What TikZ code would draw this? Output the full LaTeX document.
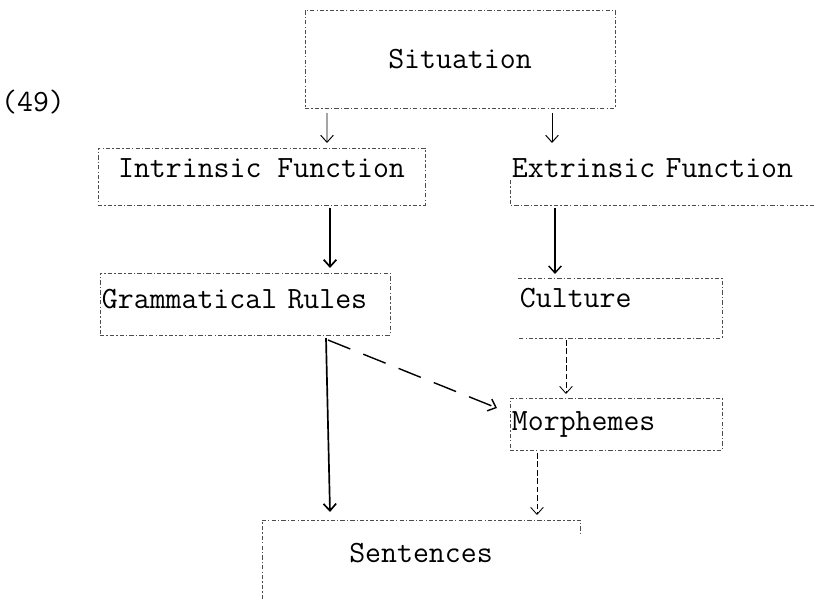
\documentclass[tikz,border=0pt]{standalone}
\usepackage{fontspec}
\usetikzlibrary{positioning}
\usetikzlibrary{calc}
\usetikzlibrary{arrows.meta}
\tikzset{
        tw/.style={font=\ttfamily\fontsize{22}{25}\selectfont, inner sep=0pt, outer sep=0pt},
        lbox/.style={tw, align=left, inner xsep=0.05cm},
        frame/.style={draw=black!70, line width=0.5pt, dash pattern=on 3pt off 1.5pt on 1pt off 1.5pt},
        thinarrow/.style={->, line width=0.7pt},
        thickarrow/.style={->, line width=1.2pt},
        dasharrow/.style={->, line width=0.6pt, dash pattern=on 4pt off 2pt},
        longdash/.style={->, line width=1pt, dash pattern=on 0.6cm off 0.35cm},
}
\begin{document}
\begin{tikzpicture}[x=0.025cm, y=-0.025cm, >={Straight Barb[length=5pt, width=9pt]}]
      \useasboundingbox (0,0) rectangle (816,599);
      % NUMBER
      \node[tw] (num) at (33,102) {(49)};

      % BOXES (text depth lifts the text inside the box)
      \node[tw, frame, minimum width=7.75cm, minimum height=2.45cm] (sit) at (460,59) {Situation};
      \node[tw, frame, minimum width=8.175cm, minimum height=1.425cm, text depth=0.4cm] (intr) at (261.5,176.5) {Intrinsic Function};
      \node[lbox, text width=7.9cm, minimum height=1.375cm, text depth=0.45cm] (ext) at (670,177.5) {Extrinsic Function};
      \node[lbox, frame, text width=7.15cm, minimum height=1.55cm, text depth=0.25cm] (gram) at (245,304) {Grammatical Rules};
      \node[lbox, text width=5cm, minimum height=1.5cm, text depth=0.5cm] (cult) at (620,308) {Culture};
      \node[lbox, frame, text width=5.2cm, minimum height=1.3cm] (morph) at (616,424) {Morphemes};
      \node[tw, minimum width=7.95cm, minimum height=1.65cm] (sent) at (421,553) {Sentences};
      % open frames
      \draw[frame] ($(ext.north west)+(0,30)$) -- (ext.south west) -- (ext.south east);
      \draw[frame] (cult.north west) -- (cult.north east) -- (cult.south east) -- (cult.south west);
      \draw[frame] ($(sent.north west)+(0,79)$) -- (sent.north west) -- (sent.north east) -- ++(0,15);

      % ARROWS
      \draw[thinarrow] ($(sit.south)+(-133,5)$) -- ($(intr.north)+(65.5,-5)$);
      \draw[thinarrow] ($(sit.south)+(92,5)$) -- ($(ext.north)+(-118,-7)$);
      \draw[thickarrow] ($(intr.south)+(68.5,3)$) -- ($(gram.north)+(85,-5)$);
      \draw[thinarrow, line width=1pt] ($(ext.south)+(-115,3)$) -- ($(cult.north)+(-65,-4)$);
      \draw[dasharrow] ($(cult.south)+(-54,2)$) -- ($(morph.north)+(-50,-4)$);
      \draw[thickarrow] ($(gram.south)+(81,3)$) -- ($(sent.north)+(-91,-8)$);
      \draw[longdash] ($(gram.south)+(83,5)$) -- ($(morph.west)+(-13,-16)$);
      \draw[dasharrow] ($(morph.south)+(-79,3)$) -- ($(sent.north)+(116,-5)$);
\end{tikzpicture}
\end{document}
